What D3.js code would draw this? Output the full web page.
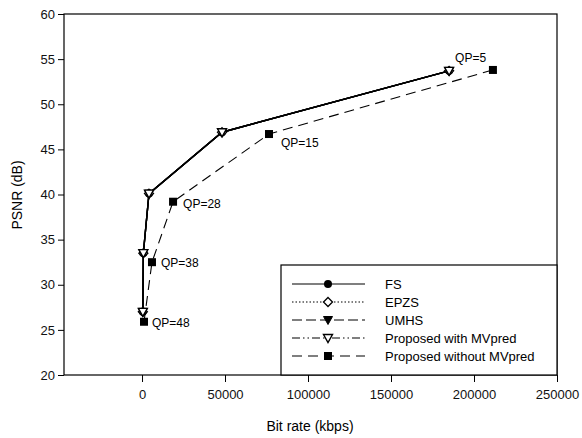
<!DOCTYPE html>
<html>
<head>
<meta charset="utf-8">
<script src="https://cdn.jsdelivr.net/npm/d3@7"></script>
<style>
  body { margin: 0; background: #fff; }
  svg { font-family: "Liberation Sans", Arial, sans-serif; }
</style>
</head>
<body>
<svg width="582" height="438"></svg>
<script>
// --- data ---
const seriesNames = ["FS", "EPZS", "UMHS", "Proposed with MVpred", "Proposed without MVpred"];
const bitrateWith = [500, 800, 4200, 48200, 185000];
const psnrWith = [27.0, 33.5, 40.1, 46.9, 53.7];
const bitrateWithout = [1200, 6000, 18700, 76500, 211400];
const psnrWithout = [25.9, 32.5, 39.2, 46.7, 53.8];
const qpLabels = ["QP=48", "QP=38", "QP=28", "QP=15", "QP=5"];
const xTicks = [0, 50000, 100000, 150000, 200000, 250000];
const yTicks = [20, 25, 30, 35, 40, 45, 50, 55, 60];

const svg = d3.select("svg");
const m = {left: 64, top: 14, right: 557, bottom: 375};
const x = d3.scaleLinear().domain([-47000, 250000]).range([m.left, m.right]);
const y = d3.scaleLinear().domain([20, 60]).range([m.bottom, m.top]);

// frame
svg.append("rect").attr("x", m.left).attr("y", m.top)
  .attr("width", m.right - m.left).attr("height", m.bottom - m.top)
  .attr("fill", "none").attr("stroke", "#000").attr("stroke-width", 1.2);

const xAxis = svg.append("g").attr("transform", "translate(0," + m.bottom + ")")
  .call(d3.axisBottom(x).tickValues(xTicks).tickFormat(d3.format("d")).tickSize(7).tickPadding(8));
const yAxis = svg.append("g").attr("transform", "translate(" + m.left + ",0)")
  .call(d3.axisLeft(y).tickValues(yTicks).tickSize(6).tickPadding(3));
[xAxis, yAxis].forEach(a => {
  a.select(".domain").remove();
  a.selectAll("line").attr("stroke", "#000");
  a.selectAll("text").attr("font-size", 13).attr("fill", "#111")
    .attr("font-family", "'Liberation Sans', Arial, sans-serif");
});

svg.append("text").attr("x", 310).attr("y", 431).attr("text-anchor", "middle")
  .attr("font-size", 14).text("Bit rate (kbps)");
svg.append("text").attr("transform", "translate(22,195) rotate(-90)").attr("text-anchor", "middle")
  .attr("font-size", 14).text("PSNR (dB)");

// --- marker drawers ---
function marker(g, kind, cx, cy) {
  if (kind === "circle") g.append("circle").attr("cx", cx).attr("cy", cy).attr("r", 4).attr("fill", "#000");
  else if (kind === "diamond") g.append("path").attr("d", `M${cx},${cy-4.5}L${cx+4.5},${cy}L${cx},${cy+4.5}L${cx-4.5},${cy}Z`)
    .attr("fill", "#fff").attr("stroke", "#000").attr("stroke-width", 1.3);
  else if (kind === "tridown") g.append("path").attr("d", `M${cx-4.5},${cy-3.5}L${cx+4.5},${cy-3.5}L${cx},${cy+4.5}Z`)
    .attr("fill", "#000").attr("stroke", "#000");
  else if (kind === "tridownOpen") g.append("path").attr("d", `M${cx-4.5},${cy-3.5}L${cx+4.5},${cy-3.5}L${cx},${cy+4.5}Z`)
    .attr("fill", "#fff").attr("stroke", "#000").attr("stroke-width", 1.4);
  else if (kind === "square") g.append("rect").attr("x", cx - 4).attr("y", cy - 4)
    .attr("width", 8).attr("height", 8).attr("fill", "#000");
}

const styles = [
  {dash: null, marker: "circle"},
  {dash: "1.5,2", marker: "diamond"},
  {dash: "10,4", marker: "tridown"},
  {dash: "8,3,1.5,3,1.5,3", marker: "tridownOpen"},
  {dash: "10,6", marker: "square"}
];

const line = d3.line().x(d => x(d[0])).y(d => y(d[1]));
const withPts = bitrateWith.map((b, i) => [b, psnrWith[i]]);
const withoutPts = bitrateWithout.map((b, i) => [b, psnrWithout[i]]);
const seriesData = [withPts, withPts, withPts, withPts, withoutPts];

const plot = svg.append("g");
// the first four curves coincide; draw them in order so the open triangles sit on top
seriesData.forEach((pts, i) => {
  plot.append("path").attr("d", line(pts)).attr("fill", "none")
    .attr("stroke", "#000").attr("stroke-width", i === 4 ? 1.1 : 1.4)
    .attr("stroke-dasharray", i === 4 ? styles[i].dash : null);
});
seriesData.forEach((pts, i) => {
  pts.forEach(p => marker(plot, styles[i].marker, x(p[0]), y(p[1])));
});

// QP labels
const qpOffsets = [[8, 5], [9, 5], [10, 6], [12, 13], [6, -9]];
qpLabels.forEach((t, i) => {
  const base = i === 4 ? withPts[i] : withoutPts[i];
  svg.append("text").attr("x", x(base[0]) + qpOffsets[i][0]).attr("y", y(base[1]) + qpOffsets[i][1])
    .attr("font-size", 12).text(t);
});

// legend
const lg = svg.append("g");
lg.append("rect").attr("x", 281).attr("y", 265).attr("width", m.right - 281).attr("height", m.bottom - 265)
  .attr("fill", "#fff").attr("stroke", "#000").attr("stroke-width", 1.2);
seriesNames.forEach((name, i) => {
  const ly = 284 + i * 18;
  lg.append("line").attr("x1", 292).attr("x2", 365).attr("y1", ly).attr("y2", ly)
    .attr("stroke", "#000").attr("stroke-width", 1.1)
    .attr("stroke-dasharray", styles[i].dash);
  marker(lg, styles[i].marker, 328, ly);
  lg.append("text").attr("x", 385).attr("y", ly + 5).attr("font-size", 13).text(name);
});
</script>
</body>
</html>
